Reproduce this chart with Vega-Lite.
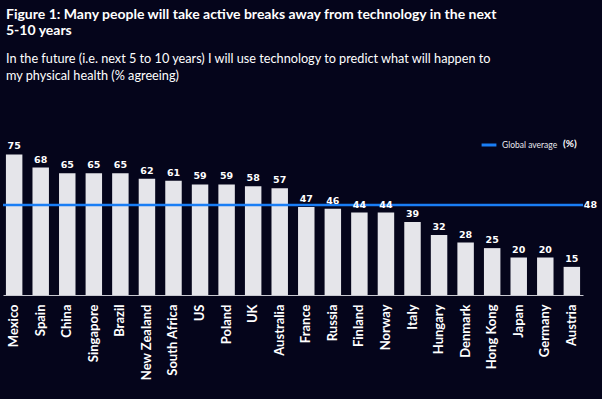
{
  "$schema": "https://vega.github.io/schema/vega-lite/v6.json",
  "autosize": "none",
  "width": 580,
  "height": 165,
  "padding": {"left": 3, "top": 130, "right": 19, "bottom": 104},
  "background": "#05051b",
  "config": {
    "view": {"stroke": null},
    "font": "Lato"
  },
  "title": {
    "text": ["Figure 1: Many people will take active breaks away from technology in the next", "5-10 years"],
    "subtitle": ["In the future (i.e. next 5 to 10 years) I will use technology to predict what will happen to", "my physical health (% agreeing)"],
    "anchor": "start",
    "frame": "group",
    "dx": 3,
    "offset": 47,
    "color": "#ffffff",
    "subtitleColor": "#ffffff",
    "font": "Lato",
    "subtitleFont": "Lato",
    "fontSize": 14,
    "fontWeight": "bold",
    "lineHeight": 16,
    "subtitleFontSize": 12.7,
    "subtitleLineHeight": 17,
    "subtitlePadding": 15
  },
  "datasets": {
    "countries": [
      {"country": "Mexico", "value": 75},
      {"country": "Spain", "value": 68},
      {"country": "China", "value": 65},
      {"country": "Singapore", "value": 65},
      {"country": "Brazil", "value": 65},
      {"country": "New Zealand", "value": 62},
      {"country": "South Africa", "value": 61},
      {"country": "US", "value": 59},
      {"country": "Poland", "value": 59},
      {"country": "UK", "value": 58},
      {"country": "Australia", "value": 57},
      {"country": "France", "value": 47},
      {"country": "Russia", "value": 46},
      {"country": "Finland", "value": 44},
      {"country": "Norway", "value": 44},
      {"country": "Italy", "value": 39},
      {"country": "Hungary", "value": 32},
      {"country": "Denmark", "value": 28},
      {"country": "Hong Kong", "value": 25},
      {"country": "Japan", "value": 20},
      {"country": "Germany", "value": 20},
      {"country": "Austria", "value": 15}
    ],
    "avg": [{"series": "Global average", "avg": 48, "country": "Austria"}]
  },
  "layer": [
    {
      "data": {"name": "countries"},
      "mark": {"type": "bar", "color": "#e5e5ea"},
      "encoding": {
        "x": {
          "field": "country", "type": "nominal", "sort": null,
          "scale": {"paddingInner": 0.38, "paddingOuter": 0.11},
          "axis": {
            "title": null, "labelAngle": -90, "labelColor": "#ffffff",
            "labelFont": "Lato", "labelFontSize": 13, "labelFontWeight": "bold",
            "labelPadding": 9, "ticks": false,
            "domainColor": "#c8c8d0", "domainWidth": 1.2
          }
        },
        "y": {
          "field": "value", "type": "quantitative",
          "scale": {"domain": [0, 88], "nice": false},
          "axis": null
        }
      }
    },
    {
      "data": {"name": "avg"},
      "mark": {"type": "rule", "strokeWidth": 2.5},
      "encoding": {
        "y": {"field": "avg", "type": "quantitative"},
        "color": {
          "field": "series", "type": "nominal",
          "scale": {"domain": ["Global average"], "range": ["#1a7ef5"]},
          "legend": {
            "title": "(%)", "titleOrient": "right", "orient": "top-right", "offset": 6,
            "titleColor": "#ffffff", "titleFontSize": 10, "titleFontWeight": "bold", "titleFont": "Lato",
            "labelColor": "#e8e8ee", "labelFontSize": 8.5, "labelFont": "Lato",
            "symbolType": "stroke", "symbolStrokeWidth": 3, "symbolSize": 220,
            "titlePadding": 6
          }
        }
      }
    },
    {
      "data": {"name": "countries"},
      "mark": {"type": "text", "color": "#ffffff", "fontWeight": "bold", "fontSize": 9.5, "baseline": "bottom", "dy": -3, "font": "DejaVu Sans"},
      "encoding": {
        "x": {"field": "country", "type": "nominal", "sort": null},
        "y": {"field": "value", "type": "quantitative"},
        "text": {"field": "value", "type": "quantitative"}
      }
    },
    {
      "data": {"name": "avg"},
      "mark": {"type": "text", "color": "#ffffff", "fontWeight": "bold", "fontSize": 9.5, "align": "left", "dx": 12, "font": "DejaVu Sans"},
      "encoding": {
        "x": {"field": "country", "type": "nominal", "sort": null},
        "y": {"field": "avg", "type": "quantitative"},
        "text": {"field": "avg", "type": "quantitative"}
      }
    }
  ]
}
